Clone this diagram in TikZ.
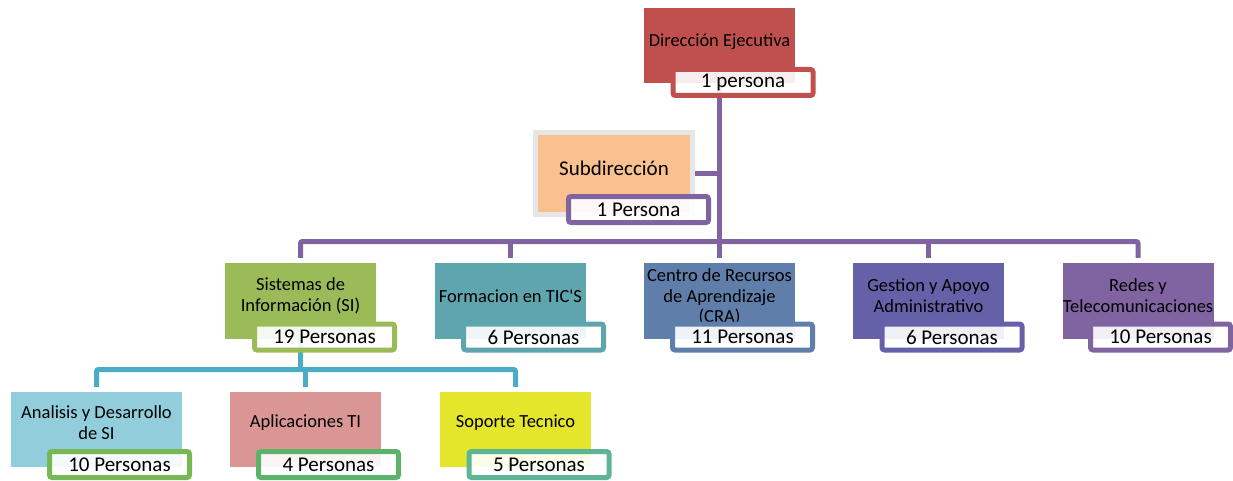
\documentclass[tikz,border=0pt]{standalone}
\usepackage{fontspec}
\setmainfont{Carlito}
\usetikzlibrary{backgrounds}

\definecolor{dirRed}{HTML}{C0504D}
\definecolor{subOrange}{HTML}{FAC090}
\definecolor{subFrame}{HTML}{E6E6E6}
\definecolor{trunkPurple}{HTML}{8064A2}
\definecolor{siGreen}{HTML}{9BBB59}
\definecolor{formTeal}{HTML}{5FA5AE}
\definecolor{craBlue}{HTML}{5F7FAA}
\definecolor{gestViolet}{HTML}{6561A8}
\definecolor{redesPurple}{HTML}{8064A2}
\definecolor{siLine}{HTML}{4BACC6}
\definecolor{anaBlue}{HTML}{92CDDC}
\definecolor{anaEdge}{HTML}{77B855}
\definecolor{aplPink}{HTML}{DA9694}
\definecolor{aplEdge}{HTML}{5CB26B}
\definecolor{sopYellow}{HTML}{E3E62B}
\definecolor{sopEdge}{HTML}{5EB596}

\begin{document}
\begin{tikzpicture}[x=1pt,y=-1pt,
  unit/.style={rectangle, minimum width=151pt, minimum height=76pt, inner sep=0pt},
  caption/.style={align=center, inner sep=0pt, text=black, font=\fontsize{18.5}{21}\selectfont},
  count/.style={rectangle, rounded corners=2.5pt, line width=5pt, fill=white,
    fill opacity=0.9, text opacity=1, minimum width=140pt, minimum height=26pt,
    inner sep=0pt, font=\fontsize{21}{24}\selectfont},
  link/.style={line width=5pt, rounded corners=2pt}
]
\useasboundingbox (0,0) rectangle (1233,481);

% top: executive direction
\node[unit, fill=dirRed, minimum height=75pt] (dir) at (719.5,45.5) {};
\node[caption, font=\fontsize{18.4}{21}\selectfont] (dirT) at (719.5,42) {Dirección Ejecutiva};
\node[count, draw=dirRed] (dirN) at (743,82.5) {1 persona};

% assistant box
\node[unit, fill=subOrange, draw=subFrame, line width=5pt, minimum width=157pt, minimum height=82pt] (sub) at (614,173.5) {};
\node[caption, font=\fontsize{21}{24}\selectfont] (subT) at (614,168) {Subdirección};
\node[count, draw=trunkPurple] (subN) at (638.5,209.5) {1 Persona};

% second level
\node[unit, fill=siGreen] (si) at (300.5,301) {};
\node[caption] (siT) at (300.5,296) {Sistemas de\\Información (SI)};
\node[count, draw=siGreen] (siN) at (324.5,337) {19 Personas};

\node[unit, fill=formTeal] (form) at (510.5,301) {};
\node[caption] (formT) at (510.5,296) {Formacion en TIC\textquotesingle S};
\node[count, draw=formTeal] (formN) at (533.5,337) {6 Personas};

\node[unit, fill=craBlue] (cra) at (719.5,301) {};
\node[caption, font=\fontsize{18.5}{20.5}\selectfont] (craT) at (719.5,297) {Centro de Recursos\\de Aprendizaje\\(CRA)};
\node[count, draw=craBlue] (craN) at (742.5,337) {11 Personas};

\node[unit, fill=gestViolet] (gest) at (928.5,301) {};
\node[caption] (gestT) at (928.5,296) {Gestion y Apoyo\\Administrativo};
\node[count, draw=gestViolet] (gestN) at (952,337) {6 Personas};

\node[unit, fill=redesPurple] (redes) at (1138,301) {};
\node[caption] (redesT) at (1138,296) {Redes y\\Telecomunicaciones};
\node[count, draw=redesPurple] (redesN) at (1160.5,337) {10 Personas};

% third level, under Sistemas de Información
\node[unit, fill=anaBlue, minimum width=171pt, minimum height=75pt] (ana) at (96.5,429.5) {};
\node[caption] (anaT) at (96.5,423) {Analisis y Desarrollo\\de SI};
\node[count, draw=anaEdge] (anaN) at (119.5,464.5) {10 Personas};

\node[unit, fill=aplPink, minimum height=75pt] (apl) at (305.5,429.5) {};
\node[caption] (aplT) at (305.5,423) {Aplicaciones TI};
\node[count, draw=aplEdge] (aplN) at (328.5,464.5) {4 Personas};

\node[unit, fill=sopYellow, minimum height=75pt] (sop) at (515.5,429.5) {};
\node[caption] (sopT) at (515.5,423) {Soporte Tecnico};
\node[count, draw=sopEdge] (sopN) at (539,464.5) {5 Personas};

% connectors
\coordinate (bar) at (719.5,241.5);
\coordinate (sbar) at (300.5,369.5);
\begin{scope}[on background layer]
  \draw[link, draw=trunkPurple] (dir.center) -- ([yshift=5pt]cra.north);
  \draw[link, draw=trunkPurple] (sub.east) -- (sub.east -| dir.center);
  \draw[link, draw=trunkPurple] ([yshift=5pt]si.north) |- (bar) -| ([yshift=5pt]redes.north);
  \draw[link, draw=trunkPurple] ([yshift=5pt]form.north) -- (form.north |- bar);
  \draw[link, draw=trunkPurple] ([yshift=5pt]gest.north) -- (gest.north |- bar);

  \draw[link, draw=siLine] (si.center) -- (sbar);
  \draw[link, draw=siLine] ([yshift=5pt]ana.north) |- (sbar) -| ([yshift=5pt]sop.north);
  \draw[link, draw=siLine] ([yshift=5pt]apl.north) -- (apl.north |- sbar);
\end{scope}
\end{tikzpicture}
\end{document}
